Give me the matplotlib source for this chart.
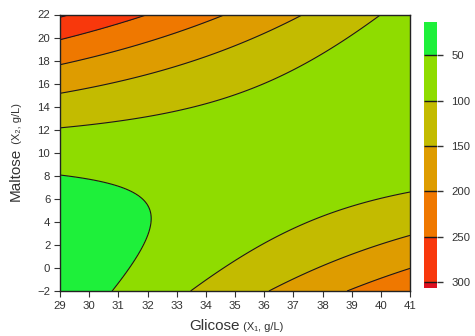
import numpy as np
import matplotlib
matplotlib.use("Agg")
import matplotlib.pyplot as plt

# ---- data (quadratic response surface) ----
x1_range = [29, 41]          # Glicose (g/L)
x2_range = [-2, 22]          # Maltose (g/L)
coef_const = -428.792
coef_x1 = 15.0605
coef_x2 = 44.6385
coef_x1x1 = 0.00631092
coef_x2x2 = 0.629836
coef_x1x2 = -1.55746
contour_levels = [50, 100, 150, 200, 250, 300]
band_colors = ['#1ef03a', '#8fdc00', '#c3bb00', '#de9c00', '#ef7800', '#f8380c', '#dc1020']
x_ticks = list(range(29, 42))
y_ticks = list(range(-2, 23, 2))
cbar_ticks = [50, 100, 150, 200, 250, 300]

plt.rcParams['font.family'] = ['Liberation Sans', 'DejaVu Sans']

X1, X2 = np.meshgrid(np.linspace(x1_range[0], x1_range[1], 400),
                     np.linspace(x2_range[0], x2_range[1], 400))
Z = (coef_const + coef_x1 * X1 + coef_x2 * X2 + coef_x1x1 * X1 ** 2
     + coef_x2x2 * X2 ** 2 + coef_x1x2 * X1 * X2)

fig = plt.figure(figsize=(4.75, 3.36), dpi=100)
W, H = 475.0, 336.0
ax = fig.add_axes([60 / W, 1 - 291 / H, 350 / W, (291 - 14.5) / H])
levels_full = [Z.min()] + contour_levels + [Z.max()]
cf = ax.contourf(X1, X2, Z, levels=levels_full, colors=band_colors)
cl = ax.contour(X1, X2, Z, levels=contour_levels, colors='#1a1a1a', linewidths=0.8)
ax.set_xlim(x1_range)
ax.set_ylim(x2_range)
ax.set_xticks(x_ticks)
ax.set_yticks(y_ticks)
ax.tick_params(direction='out', length=4, width=0.8, labelsize=8.2,
               labelcolor='#333333', color='#333333', pad=3)
for s in ax.spines.values():
    s.set_linewidth(1.0)
    s.set_color('#222222')

cax = fig.add_axes([424 / W, 1 - 288 / H, 13 / W, 266 / H])
cb = fig.colorbar(cf, cax=cax, spacing='proportional', ticks=cbar_ticks)
cb.outline.set_visible(False)
cax.invert_yaxis()
cax.tick_params(direction='out', length=4.5, width=1.0, labelsize=8.2,
                labelcolor='#333333', color='#333333', pad=6)
cb.add_lines(cl)
for ln in cb.lines:
    ln.set_linewidth(1.0)

# ---- axis labels with two font sizes ----
fig.canvas.draw()
r = fig.canvas.get_renderer()

main_x = fig.text(0, 1 - 330 / H, 'Glicose', fontsize=11,
                  color='#333333', ha='left', va='baseline')
sub_x = fig.text(0, 1 - 330 / H, ' (X\u2081, g/L)', fontsize=8,
                 color='#333333', ha='left', va='baseline')
w1 = main_x.get_window_extent(r).width
w2 = sub_x.get_window_extent(r).width
start = 236 - (w1 + w2) / 2
main_x.set_x(start / W)
sub_x.set_x((start + w1) / W)

main_y = fig.text(20 / W, 0, 'Maltose', fontsize=11, color='#333333',
                  rotation=90, ha='right', va='bottom', rotation_mode='anchor')
sub_y = fig.text(20 / W, 0, ' (X\u2082, g/L)', fontsize=8, color='#333333',
                 rotation=90, ha='right', va='bottom', rotation_mode='anchor')
h1 = main_y.get_window_extent(r).height
h2 = sub_y.get_window_extent(r).height
ystart = (H - 152) - (h1 + h2) / 2
main_y.set_position((20 / W, ystart / H))
sub_y.set_position((20 / W, (ystart + h1) / H))
main_y.set_va('baseline'); sub_y.set_va('baseline')
main_y.set_ha('left'); sub_y.set_ha('left')

fig.savefig('out.png', dpi=100)
